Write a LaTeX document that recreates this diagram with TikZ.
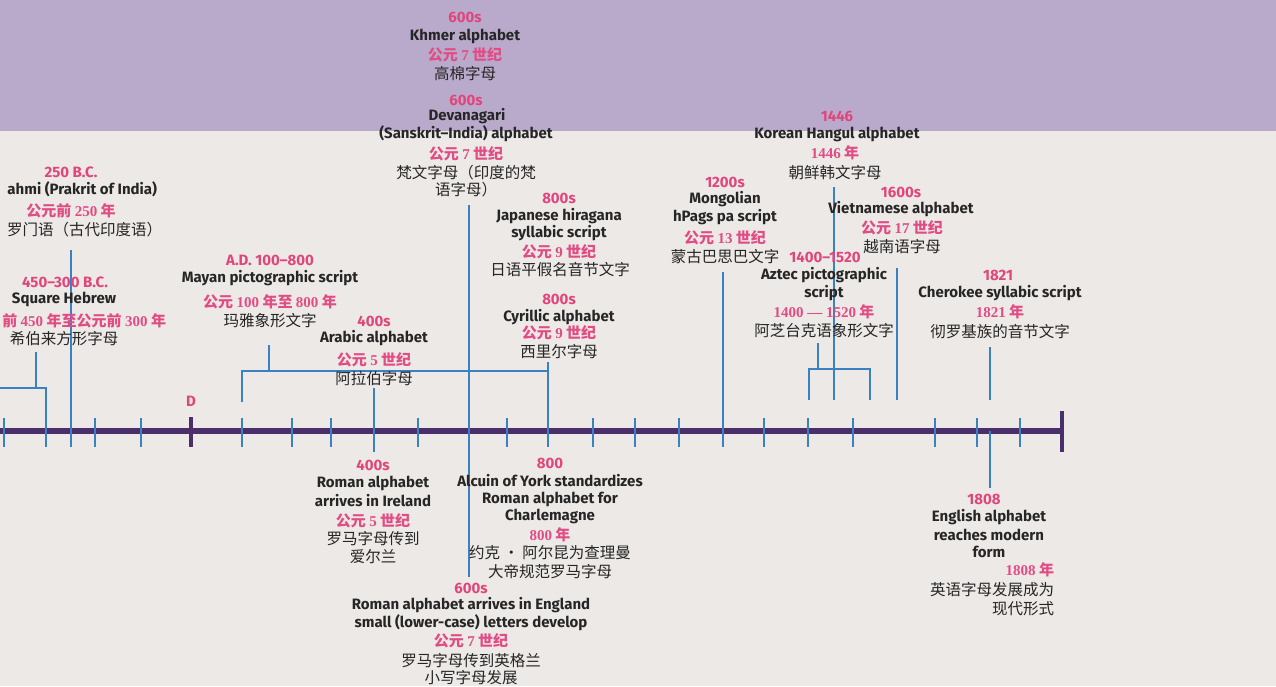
\documentclass[tikz,border=0pt]{standalone}
\usepackage{fontspec}
\setmainfont{Fira Sans}
\newfontfamily\cjk{Noto Sans CJK SC}
\newfontfamily\dgfont{Liberation Serif}
\newcommand{\dg}[1]{{\dgfont\bfseries #1}}
\definecolor{bandc}{HTML}{B9AACC}
\definecolor{paperc}{HTML}{ECE9E6}
\definecolor{pinkc}{HTML}{E0457B}
\definecolor{pinkz}{HTML}{E24C85}
\definecolor{inkc}{HTML}{262626}
\definecolor{bluec}{HTML}{3B80C0}
\definecolor{axisc}{HTML}{4B2F6B}
\tikzset{
  lbl/.style={inner sep=0pt, outer sep=0pt, anchor=center},
  yr/.style={lbl, text=pinkc, font=\fontsize{15}{18}\selectfont\bfseries},
  en/.style={lbl, text=inkc, font=\fontsize{15}{18}\selectfont\bfseries},
  zp/.style={lbl, text=pinkz, font=\fontsize{15}{18}\selectfont\cjk\bfseries},
  zh/.style={lbl, text=inkc, font=\fontsize{15.5}{18}\selectfont\cjk},
  conn/.style={draw=bluec, line width=2.3pt},
  tick/.style={draw=bluec, line width=2.3pt},
  axisline/.style={draw=axisc, line width=5.5pt},
  axistick/.style={draw=axisc, line width=3.5pt}
}
\begin{document}
\begin{tikzpicture}[x=1pt,y=-1pt]
\path[use as bounding box] (0,0) rectangle (1276,686);
\clip (0,0) rectangle (1276,686);
\fill[paperc] (0,0) rectangle (1276,686);
\fill[bandc] (0,0) rectangle (1276,131);

% ---------- axis ----------
\coordinate (axL) at (-5,431);
\coordinate (axR) at (1062,431);
\coordinate (capT) at (1062,411);
\coordinate (capB) at (1062,452);
\draw[axisline] (axL) -- (axR);
\draw[axistick] (capT) -- (capB);
\coordinate (dT) at (191,417);
\coordinate (dB) at (191,447);
\draw[axistick] (dT) -- (dB);

% ticks
\foreach \x [count=\i] in {4,95,141,242,292,331,418,507,593,635,679,764,808,853,935,977,1020}{
  \coordinate (tk\i T) at (\x,418);
  \coordinate (tk\i B) at (\x,447);
  \draw[tick] (tk\i T) -- (tk\i B);
}

% ---------- connectors ----------
% Brahmi
\coordinate (brT) at (71,250); \coordinate (brB) at (71,447);
\draw[conn] (brT) -- (brB);
% Square Hebrew
\coordinate (heT) at (36,352); \coordinate (heJ) at (36,388);
\coordinate (heL) at (-5,388); \coordinate (heR) at (46,388); \coordinate (heB) at (46,447);
\draw[conn] (heT) -- (heJ);
\draw[conn] (heL) -- (heR) -- (heB);
% Mayan / Cyrillic bracket
\coordinate (maT) at (269,345); \coordinate (maJ) at (269,371);
\coordinate (maL) at (242,371); \coordinate (maLB) at (242,402);
\coordinate (maR) at (548,371);
\coordinate (cyT) at (548,362); \coordinate (cyB) at (548,447);
\draw[conn] (maT) -- (maJ);
\draw[conn] (maLB) -- (maL) -- (maR);
\draw[conn] (cyT) -- (cyB);
% Arabic / Roman Ireland
\coordinate (arT) at (374,388); \coordinate (arB) at (374,452);
\draw[conn] (arT) -- (arB);
% Devanagari / Roman England
\coordinate (dvT) at (469,205); \coordinate (dvB) at (469,577);
\draw[conn] (dvT) -- (dvB);
% Mongolian
\coordinate (moT) at (723,272); \coordinate (moB) at (723,447);
\draw[conn] (moT) -- (moB);
% Korean
\coordinate (koT) at (834,187); \coordinate (koB) at (834,400);
\draw[conn] (koT) -- (koB);
% Aztec bracket
\coordinate (azT) at (818,343); \coordinate (azJ) at (818,369);
\coordinate (azL) at (809,369); \coordinate (azLB) at (809,400);
\coordinate (azR) at (870,369); \coordinate (azRB) at (870,400);
\draw[conn] (azT) -- (azJ);
\draw[conn] (azLB) -- (azL) -- (azR) -- (azRB);
% Vietnamese
\coordinate (viT) at (897,268); \coordinate (viB) at (897,400);
\draw[conn] (viT) -- (viB);
% Cherokee
\coordinate (chT) at (990,347); \coordinate (chB) at (990,400);
\draw[conn] (chT) -- (chB);
% English 1808
\coordinate (egT) at (990,431); \coordinate (egB) at (990,488);
\draw[conn] (egT) -- (egB);

% ---------- labels ----------
\node[yr] (dL) at (191,401) {D};

% Khmer
\node[yr] (khY) at (465,17) {600s};
\node[en] (khE) at (465,36) {Khmer alphabet};
\node[zp] (khP) at (465,55) {公元 \dg{7} 世纪};
\node[zh] (khZ) at (465,74) {高棉字母};

% Devanagari
\node[yr] (dvY) at (466,100) {600s};
\node[en] (dvE1) at (467,116) {Devanagari};
\node[en] (dvE2) at (466,134) {(Sanskrit–India) alphabet};
\node[zp] (dvP) at (466,154) {公元 \dg{7} 世纪};
\node[zh] (dvZ1) at (466,173) {梵文字母（印度的梵};
\node[zh] (dvZ2) at (466,190) {语字母）};

% Brahmi (cut at the left edge in the reference)
\node[yr] (brY) at (71,172) {250 B.C.};
\node[en, anchor=east] (brE) at (157,189) {ahmi (Prakrit of India)};
\node[zp] (brP) at (71,211) {公元前 \dg{250} 年};
\node[zh, anchor=east] (brZ) at (162,230) {罗门语（古代印度语）};

% Square Hebrew
\node[yr] (heY) at (65,282) {450–300 B.C.};
\node[en] (heE) at (64,299) {Square Hebrew};
\node[zp, anchor=east] (heP) at (166,321) {前 \dg{450} 年至公元前 \dg{300} 年};
\node[zh] (heZ) at (64,339) {希伯来方形字母};

% Mayan
\node[yr] (maY) at (270,260) {A.D. 100–800};
\node[en] (maE) at (270,278) {Mayan pictographic script};
\node[zp] (maP) at (270,302) {公元 \dg{100} 年至 \dg{800} 年};
\node[zh] (maZ) at (270,321) {玛雅象形文字};

% Arabic
\node[yr] (arY) at (374,321) {400s};
\node[en] (arE) at (374,338) {Arabic alphabet};
\node[zp] (arP) at (374,360) {公元 \dg{5} 世纪};
\node[zh] (arZ) at (374,379) {阿拉伯字母};

% Japanese
\node[yr] (jaY) at (559,198) {800s};
\node[en] (jaE1) at (559,216) {Japanese hiragana};
\node[en] (jaE2) at (559,233) {syllabic script};
\node[zp] (jaP) at (559,252) {公元 \dg{9} 世纪};
\node[zh] (jaZ) at (560,270) {日语平假名音节文字};

% Cyrillic
\node[yr] (cyY) at (559,299) {800s};
\node[en] (cyE) at (559,317) {Cyrillic alphabet};
\node[zp] (cyP) at (559,333) {公元 \dg{9} 世纪};
\node[zh] (cyZ) at (559,352) {西里尔字母};

% Mongolian
\node[yr] (moY) at (725,182) {1200s};
\node[en] (moE1) at (725,199) {Mongolian};
\node[en] (moE2) at (725,217) {hPags pa script};
\node[zp] (moP) at (725,238) {公元 \dg{13} 世纪};
\node[zh] (moZ) at (725,257) {蒙古巴思巴文字};

% Korean
\node[yr] (koY) at (837,116) {1446};
\node[en] (koE) at (837,134) {Korean Hangul alphabet};
\node[zp] (koP) at (835,153) {\dg{1446} 年};
\node[zh] (koZ) at (835,173) {朝鲜韩文字母};

% Vietnamese
\node[yr] (viY) at (901,192) {1600s};
\node[en] (viE) at (901,209) {Vietnamese alphabet};
\node[zp] (viP) at (902,228) {公元 \dg{17} 世纪};
\node[zh] (viZ) at (902,247) {越南语字母};

% Aztec
\node[yr] (azY) at (825,257) {1400–1520};
\node[en] (azE1) at (824,275) {Aztec pictographic};
\node[en] (azE2) at (824,293) {script};
\node[zp] (azP) at (824,312) {\dg{1400 — 1520} 年};
\node[zh] (azZ) at (824,331) {阿芝台克语象形文字};

% Cherokee
\node[yr] (chY) at (998,275) {1821};
\node[en] (chE) at (1000,293) {Cherokee syllabic script};
\node[zp] (chP) at (1000,312) {\dg{1821} 年};
\node[zh] (chZ) at (1000,332) {彻罗基族的音节文字};

% Roman alphabet arrives in Ireland
\node[yr] (irY) at (373,465) {400s};
\node[en] (irE1) at (373,483) {Roman alphabet};
\node[en] (irE2) at (373,501) {arrives in Ireland};
\node[zp] (irP) at (373,521) {公元 \dg{5} 世纪};
\node[zh] (irZ1) at (373,539) {罗马字母传到};
\node[zh] (irZ2) at (373,557) {爱尔兰};

% Alcuin
\node[yr] (alY) at (550,463) {800};
\node[en] (alE1) at (550,481) {Alcuin of York standardizes};
\node[en] (alE2) at (550,499) {Roman alphabet for};
\node[en] (alE3) at (550,516) {Charlemagne};
\node[zp] (alP) at (550,535) {\dg{800} 年};
\node[zh] (alZ1) at (550,553) {约克 · 阿尔昆为查理曼};
\node[zh] (alZ2) at (550,572) {大帝规范罗马字母};

% Roman alphabet arrives in England
\node[yr] (enY) at (471,588) {600s};
\node[en] (enE1) at (471,605) {Roman alphabet arrives in England};
\node[en] (enE2) at (471,623) {small (lower-case) letters develop};
\node[zp] (enP) at (471,641) {公元 \dg{7} 世纪};
\node[zh] (enZ1) at (471,661) {罗马字母传到英格兰};
\node[zh] (enZ2) at (471,678) {小写字母发展};

% English alphabet
\node[yr] (egY) at (984,499) {1808};
\node[en] (egE1) at (989,517) {English alphabet};
\node[en] (egE2) at (989,535) {reaches modern};
\node[en] (egE3) at (989,552) {form};
\node[zp, anchor=east] (egP) at (1054,570) {\dg{1808} 年};
\node[zh, anchor=east] (egZ1) at (1054,590) {英语字母发展成为};
\node[zh, anchor=east] (egZ2) at (1054,609) {现代形式};
\end{tikzpicture}
\end{document}
